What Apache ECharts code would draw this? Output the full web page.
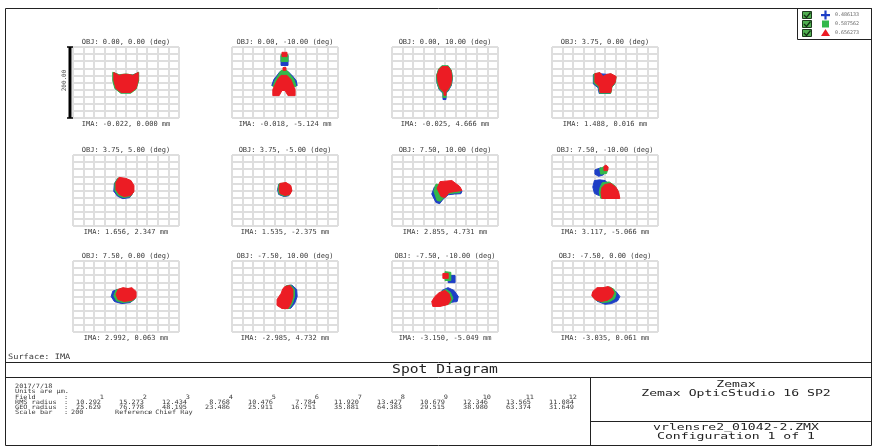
<!DOCTYPE html>
<html>
<head>
<meta charset="utf-8">
<script src="https://cdn.jsdelivr.net/npm/echarts@6/dist/echarts.min.js"></script>
<style>
html, body { margin: 0; padding: 0; background: #fff; }
#chart { width: 875px; height: 448px; }
</style>
</head>
<body>
<div id="chart"></div>
<script>
// Wavelengths (µm) and their plot colours
const wavelengths = ['0.486133', '0.587562', '0.656273'];
const spotColors = ['#1e3fc6', '#33b84a', '#ec1c24'];

// Field definitions and chief ray image positions
const objFields = ['0.00, 0.00', '0.00, -10.00', '0.00, 10.00', '3.75, 0.00',
  '3.75, 5.00', '3.75, -5.00', '7.50, 10.00', '7.50, -10.00',
  '7.50, 0.00', '-7.50, 10.00', '-7.50, -10.00', '-7.50, 0.00'];
const imaPositions = ['-0.022, 0.000', '-0.018, -5.124', '-0.025, 4.666', '1.488, 0.016',
  '1.656, 2.347', '1.535, -2.375', '2.855, 4.731', '3.117, -5.066',
  '2.992, 0.063', '-2.985, 4.732', '-3.150, -5.049', '-3.035, 0.061'];

// Summary table
const fieldNumbers = [1, 2, 3, 4, 5, 6, 7, 8, 9, 10, 11, 12];
const rmsRadius = ['10.292', '15.273', '12.434', '8.768', '10.476', '7.784', '11.920', '13.427', '10.679', '12.346', '13.565', '11.084'];
const geoRadius = ['25.629', '76.778', '48.195', '23.486', '25.911', '16.751', '35.881', '64.383', '29.515', '38.980', '63.374', '31.649'];
const scaleBarUm = 200;

// Ray footprints (µm relative to chief ray), one list of outlines per field
const blueSpots = [
  [[[-24,27],[-12,21],[12,21],[23,27],[23,4],[18,-18],[8,-29],[-9,-29],[-20,-18],[-24,4]]],
  [[[-7.5,76],[5.7,76],[5.7,48],[-7.5,48]], [[-9.4,31],[5.7,31],[15,17],[21,5.6],[23,-8.5],[-25,-8.5],[-21,8.5],[-15,20]]],
  [[[-6,46],[6,46],[12,33],[14,12],[12,-8],[6,-24],[2,-30],[-4,-30],[-11,-20],[-15,-2],[-16,18],[-12,36]], [[-3.8,-20],[1.9,-20],[1.9,-48],[-3.8,-48]]],
  [[[-22,22],[-11,25],[11,22],[20,14],[18,-4],[12,-15],[10,-31],[-11,-31],[-13,-15],[-22,-4]]],
  [[[-16,33],[-3,30],[7,24],[13,10],[13,-7],[7,-20],[-6,-23],[-16,-16],[-23,-2],[-22,19]]],
  [[[-12,17],[-1,19],[9,11],[11,-3],[7,-15],[-2,-17],[-12,-11],[-14,2]]],
  [[[-20,10],[-8,8],[-2,-2],[10,-4],[20,5],[32,-2],[30,-9],[18,-10],[6,-12],[-4,-25],[-10,-37],[-17,-34],[-25,-10]]],
  [[[-19,58],[-8,64],[-2,56],[-3,44],[-12,40],[-19,46]], [[-20,28],[-10,30],[0,28],[6,20],[0,5],[-6,-12],[-12,-14],[-20,-8],[-23,10]]],
  [[[-25,15],[-16,20],[-6,18],[8,18],[17,6],[16,-8],[8,-17],[-8,-20],[-22,-14],[-28,0]]],
  [[[4,31],[13,32],[22,20],[23,0],[18,-20],[11,-33],[0,-34],[-9,-25],[-9,-8],[-1,8],[2,22]]],
  [[[6,59],[19,59],[19,39],[6,39]], [[-5.7,17],[5.7,25],[17,17],[25,0],[23,-14],[9.4,-17],[0,-8.5]]],
  [[[-20,10],[-10,20],[5,22],[14,20],[22,12],[28,0],[24,-12],[12,-20],[0,-22],[-15,-13],[-22,-2]]]
];
const greenSpots = [
  [[[-25,29],[-13,22],[0,24],[13,21],[24,29],[24,5],[19,-19],[9,-30],[-10,-30],[-21,-17],[-25,5]]],
  [[[-7.5,79],[5.7,79],[5.7,59],[-7.5,59]], [[-7.5,34],[3.8,34],[11,20],[17,8.5],[21,-11],[-23,-11],[-19,5.6],[-13,20]]],
  [[[-6,47],[6,47],[12,34],[14,14],[12,-6],[6,-22],[2,-28],[-4,-28],[-11,-18],[-15,0],[-16,20],[-12,38]], [[-3.8,-20],[1.9,-20],[1.9,-42],[-3.8,-42]]],
  [[[-21,24],[-10,27],[-4,16],[4,22],[11,24],[21,16],[19,-2],[13,-13],[11,-30],[-10,-30],[-12,-13],[-21,-2]]],
  [[[-15,35],[-2,32],[8,26],[14,12],[14,-5],[8,-17],[-5,-20],[-15,-14],[-21,0],[-21,21]]],
  [[[-11,19],[0,21],[10,13],[12,-1],[8,-13],[-1,-16],[-11,-10],[-13,4]]],
  [[[-17,18],[-6,15],[0,0],[10,-1],[20,4],[29,0],[28,-6],[18,-7],[6,-9],[-3,-22],[-9,-30],[-15,-28],[-21,-2]]],
  [[[-10,62],[0,68],[5,60],[3,48],[-8,46]], [[-5,22],[8,24],[18,14],[24,0],[26,-22],[-8,-22],[-11,-5],[-9,10]]],
  [[[-19,18],[-10,22],[0,22],[10,22],[18,10],[18,-5],[10,-14],[-6,-17],[-18,-12],[-23,2]]],
  [[[2,30],[11,32],[18,20],[18,0],[14,-20],[8,-34],[-2,-34],[-12,-25],[-12,-8],[-4,8],[0,22]]],
  [[[0,70],[11,68],[11,45],[0,45]], [[-6,14],[2,20],[10,12],[15,-5],[10,-20],[-4,-25],[-15,-20],[-12,-5]]],
  [[[-22,12],[-14,23],[0,24],[9,27],[17,20],[21,8],[18,-6],[8,-15],[-4,-17],[-17,-10],[-24,0]]]
];
const redSpots = [
  [[[-23,28],[-13,20],[-4,23],[4,23],[13,20],[23,28],[23,6],[19,-17],[9,-28],[-9,-28],[-19,-17],[-23,6]]],
  [[[-5.7,85],[3.8,85],[3.8,73],[-5.7,73]], [[-3.8,42],[1.9,42],[1.9,34],[-3.8,34]],
   [[-7.5,20],[3.8,20],[11,8.5],[15,-5.6],[19,-20],[19,-37],[5.7,-37],[0,-22.5],[-5.7,-22.5],[-11,-37],[-23,-37],[-23,-20],[-17,0],[-13,11]]],
  [[[-5.7,45],[5.7,45],[11,34],[13,14],[11,-5.6],[5.7,-20],[1.9,-25],[-3.8,-25],[-9.4,-17],[-13,0],[-15,20],[-11,37]], [[-1.9,-20],[1.9,-20],[1.9,-36],[-1.9,-36]]],
  [[[-19,25],[-9.4,28],[-3.8,17],[3.8,23],[11,25],[21,17],[19,0],[13,-11],[11,-28],[-9.4,-28],[-11,-11],[-19,0]]],
  [[[-13,37],[0,34],[9.4,28],[15,14],[15,-2.8],[9.4,-14],[-3.8,-17],[-13,-11],[-19,2.8],[-19,23]]],
  [[[-9.4,20],[1.9,22.5],[11,14],[13,0],[9.4,-11],[0,-14],[-9.4,-8.5],[-11,5.6]]],
  [[[-9.4,25],[13,28],[28,11],[32,0],[19,-2.8],[7.5,-5.6],[0,-20],[-7.5,-17],[-15,5.6]]],
  [[[-2,68],[2,72],[6,66],[5,56],[-2,56]], [[0,17],[11,20],[21,8.5],[26,-5.6],[28,-22.5],[-5.7,-22.5],[-7.5,-5.6],[-5.7,8.5]]],
  [[[-15,20],[-5.7,25],[3.8,22.5],[11,25],[19,14],[19,-2.8],[11,-11],[-3.8,-14],[-15,-8.5],[-19,5.6]]],
  [[[0,28],[9.4,31],[15,20],[15,0],[11,-20],[5.7,-34],[-5.7,-34],[-15,-25],[-15,-8.5],[-7.5,8.5],[-3.8,22.5]]],
  [[[-4,65],[6,65],[6,51],[-4,51]], [[-11,11],[0,17],[7.5,8.5],[11,-8.5],[5.7,-22.5],[-9.4,-28],[-23,-28],[-25,-14],[-19,0]]],
  [[[-23,14],[-15,25],[-3.8,25],[5.7,28],[13,22.5],[17,11],[13,-2.8],[3.8,-11],[-7.5,-14],[-19,-8.5],[-25,2.8]]]
];

// ---- layout ----
const gridLefts = [73, 232, 392, 552];
const gridTops = [47, 155, 261];
const gridW = 106, gridH = 71;
const mono = 'DejaVu Sans Mono';
const ink = '#3a3a3a';

const grids = [], xAxes = [], yAxes = [], series = [], graphics = [];

function axis(i) {
  return {
    gridIndex: i, type: 'value', min: -scaleBarUm / 2, max: scaleBarUm / 2, interval: 20,
    axisLine: { show: false }, axisTick: { show: false }, axisLabel: { show: false },
    splitLine: { show: true, lineStyle: { color: '#dedede', width: 2 } }
  };
}

function text(x, y, str, size, opts) {
  const o = Object.assign({ align: 'left', vAlign: 'middle', color: ink, scaleX: 1, weight: 'normal' }, opts || {});
  return {
    type: 'text', x: x, y: y, scaleX: o.scaleX, silent: true,
    style: {
      text: str, font: o.weight + ' ' + size + 'px "' + mono + '"', fill: o.color,
      align: o.align, textAlign: o.align, verticalAlign: o.vAlign, textVerticalAlign: o.vAlign
    }
  };
}

objFields.forEach((f, i) => {
  const left = gridLefts[i % 4], top = gridTops[Math.floor(i / 4)];
  grids.push({ left: left, top: top, width: gridW, height: gridH });
  xAxes.push(axis(i));
  yAxes.push(axis(i));

  const polys = [];
  [blueSpots, greenSpots, redSpots].forEach((set, w) => set[i].forEach(p => polys.push({ w: w, p: p })));
  series.push({
    type: 'custom', name: 'Field ' + fieldNumbers[i], xAxisIndex: i, yAxisIndex: i, silent: true,
    data: polys.map(o => o.p[0]),
    renderItem: function (params, api) {
      const o = polys[params.dataIndex];
      const c = spotColors[o.w];
      return { type: 'polygon', shape: { points: o.p.map(pt => api.coord(pt)) },
        style: { fill: c, stroke: c, lineWidth: 1, lineJoin: 'round' } };
    }
  });

  const cx = left + gridW / 2;
  graphics.push(text(cx, top - 5, 'OBJ: ' + f + ' (deg)', 7, { align: 'center' }));
  graphics.push(text(cx, top + gridH + 6, 'IMA: ' + imaPositions[i] + ' mm', 7, { align: 'center' }));
});

// scale bar beside the first field
series.push({
  type: 'custom', name: 'Scale bar', xAxisIndex: 0, yAxisIndex: 0, silent: true, clip: false,
  data: [[-scaleBarUm / 2, 0]],
  renderItem: function (params, api) {
    const top = api.coord([-scaleBarUm / 2, scaleBarUm / 2]);
    const bot = api.coord([-scaleBarUm / 2, -scaleBarUm / 2]);
    const x = top[0] - 3;
    return {
      type: 'group', children: [
        { type: 'line', shape: { x1: x, y1: top[1], x2: x, y2: bot[1] }, style: { stroke: '#000', lineWidth: 3 } },
        { type: 'line', shape: { x1: x - 3, y1: top[1], x2: x + 3, y2: top[1] }, style: { stroke: '#000', lineWidth: 1.5 } },
        { type: 'line', shape: { x1: x - 3, y1: bot[1], x2: x + 3, y2: bot[1] }, style: { stroke: '#000', lineWidth: 1.5 } },
        { type: 'text', x: x - 6, y: (top[1] + bot[1]) / 2 - 2, rotation: Math.PI / 2,
          style: { text: scaleBarUm.toFixed(2), font: '6px "' + mono + '"', fill: ink, align: 'center', verticalAlign: 'middle' } }
      ]
    };
  }
});

// ---- frame and info boxes ----
const frameStroke = { stroke: '#222', lineWidth: 1, fill: null };
graphics.push({ type: 'rect', shape: { x: 5.5, y: 8.5, width: 866, height: 437 }, style: frameStroke, silent: true });
graphics.push({ type: 'line', shape: { x1: 5, y1: 362.5, x2: 872, y2: 362.5 }, style: frameStroke, silent: true });
graphics.push({ type: 'line', shape: { x1: 5, y1: 377.5, x2: 872, y2: 377.5 }, style: frameStroke, silent: true });
graphics.push({ type: 'line', shape: { x1: 590.5, y1: 378, x2: 590.5, y2: 446 }, style: frameStroke, silent: true });
graphics.push({ type: 'line', shape: { x1: 591, y1: 421.5, x2: 872, y2: 421.5 }, style: frameStroke, silent: true });

graphics.push(text(8, 357.5, 'Surface: IMA', 7.5, { scaleX: 1.15 }));
graphics.push(text(445, 370, 'Spot Diagram', 12, { align: 'center', scaleX: 1.22, color: '#222' }));

graphics.push(text(736, 385, 'Zemax', 9.5, { align: 'center', scaleX: 1.38, color: '#222' }));
graphics.push(text(736, 393.5, 'Zemax OpticStudio 16 SP2', 9.5, { align: 'center', scaleX: 1.38, color: '#222' }));
graphics.push(text(736, 428, 'vrlensre2_01042-2.ZMX', 9.5, { align: 'center', scaleX: 1.38, color: '#222' }));
graphics.push(text(736, 437, 'Configuration 1 of 1', 9.5, { align: 'center', scaleX: 1.38, color: '#222' }));

// summary table
const rowY = [386, 391.5, 397.5, 402.5, 407.5, 412];
const tSize = 6;
const tOpt = { scaleX: 1.15 };
const tOptR = { scaleX: 1.15, align: 'right' };
graphics.push(text(15, rowY[0], '2017/7/18', tSize, tOpt));
graphics.push(text(15, rowY[1], 'Units are \u00b5m.', tSize, tOpt));
graphics.push(text(15, rowY[2], 'Field', tSize, tOpt));
graphics.push(text(15, rowY[3], 'RMS radius', tSize, tOpt));
graphics.push(text(15, rowY[4], 'GEO radius', tSize, tOpt));
graphics.push(text(15, rowY[5], 'Scale bar', tSize, tOpt));
[2, 3, 4, 5].forEach(r => graphics.push(text(64, rowY[r], ':', tSize, tOpt)));
graphics.push(text(71, rowY[5], String(scaleBarUm), tSize, tOpt));
graphics.push(text(115, rowY[5], 'Reference', tSize, tOpt));
graphics.push(text(147, rowY[5], ': Chief Ray', tSize, tOpt));
fieldNumbers.forEach((n, k) => {
  const right = 101 + 43 * k;
  graphics.push(text(right + 3, rowY[2], String(n), tSize, tOptR));
  graphics.push(text(right, rowY[3], rmsRadius[k], tSize, tOptR));
  graphics.push(text(right, rowY[4], geoRadius[k], tSize, tOptR));
});

// wavelength key
graphics.push({ type: 'rect', shape: { x: 797.5, y: 8.5, width: 74, height: 31 }, style: frameStroke, silent: true });
wavelengths.forEach((wl, k) => {
  const cy = 15 + k * 9;
  graphics.push({ type: 'rect', shape: { x: 802.5, y: cy - 3.5, width: 9, height: 7 }, style: { fill: '#4fae4f', stroke: '#1d3a1d', lineWidth: 1 }, silent: true });
  graphics.push({ type: 'polyline', shape: { points: [[804, cy], [806.5, cy + 2.5], [810.5, cy - 2.5]] }, style: { stroke: '#123012', lineWidth: 1.3, fill: null }, silent: true });
  let sym;
  if (k === 0) {
    sym = { type: 'group', silent: true, children: [
      { type: 'rect', shape: { x: 821, y: cy - 1, width: 9, height: 2.2 }, style: { fill: spotColors[0] } },
      { type: 'rect', shape: { x: 824.4, y: cy - 4.5, width: 2.2, height: 9 }, style: { fill: spotColors[0] } }
    ] };
  } else if (k === 1) {
    sym = { type: 'rect', shape: { x: 822, y: cy - 3.5, width: 7, height: 7 }, style: { fill: spotColors[1] }, silent: true };
  } else {
    sym = { type: 'polygon', shape: { points: [[825.5, cy - 4], [830, cy + 3], [821, cy + 3]] }, style: { fill: spotColors[2] }, silent: true };
  }
  graphics.push(sym);
  graphics.push(text(835, cy, wl, 5, { color: '#666' }));
});

const chart = echarts.init(document.getElementById('chart'), null, { renderer: 'canvas' });
chart.setOption({
  animation: false,
  backgroundColor: '#fff',
  grid: grids,
  xAxis: xAxes,
  yAxis: yAxes,
  series: series,
  graphic: { elements: graphics }
});
</script>
</body>
</html>
